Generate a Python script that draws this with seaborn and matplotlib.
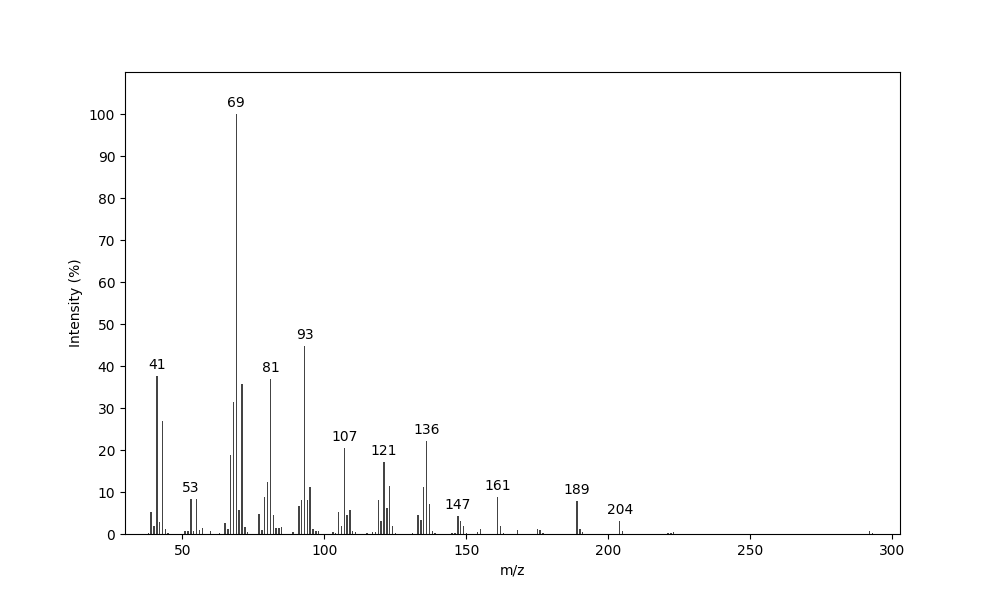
import numpy as np
import pandas as pd
import matplotlib
matplotlib.use("Agg")
import matplotlib.pyplot as plt
import seaborn as sns

# m/z values and relative intensities
mz = [38, 39, 40, 41, 42, 43, 44, 45,
      51, 52, 53, 54, 55, 56, 57, 60, 63,
      65, 66, 67, 68, 69, 70, 71, 72, 73,
      77, 78, 79, 80, 81, 82, 83, 84, 85,
      89, 91, 92, 93, 94, 95, 96, 97, 98,
      103, 104, 105, 106, 107, 108, 109, 110, 111, 115,
      117, 118, 119, 120, 121, 122, 123, 124, 125,
      131, 133, 134, 135, 136, 137, 138, 139,
      145, 146, 147, 148, 149, 150,
      154, 155, 161, 162, 163, 168,
      175, 176, 177, 189, 190, 191,
      204, 205, 221, 222, 223, 292, 293]
intensity = [0.3, 5.2, 1.9, 37.6, 2.9, 27.0, 1.1, 0.3,
             0.6, 0.7, 8.3, 0.7, 8.3, 0.9, 1.4, 0.7, 0.3,
             2.6, 1.1, 18.8, 31.5, 100.0, 5.7, 35.8, 1.7, 0.4,
             4.8, 0.9, 8.9, 12.4, 36.9, 4.6, 1.4, 1.4, 1.7,
             0.4, 6.7, 8.1, 44.8, 8.1, 11.2, 1.1, 0.7, 0.7,
             0.4, 0.3, 5.2, 1.9, 20.5, 4.5, 5.7, 0.8, 0.5, 0.2,
             0.5, 0.4, 8.1, 3.1, 17.1, 6.2, 11.4, 2.0, 0.2,
             0.2, 4.5, 3.3, 11.2, 22.1, 7.1, 0.7, 0.3,
             0.2, 0.3, 4.3, 3.1, 1.9, 0.3,
             0.5, 1.2, 8.8, 1.9, 0.2, 1.0,
             1.2, 0.9, 0.3, 7.9, 1.2, 0.5,
             3.1, 0.8, 0.3, 0.3, 0.5, 0.7, 0.2]

# peaks that carry a label
labeled = [41, 53, 69, 81, 93, 107, 121, 136, 147, 161, 189, 204]

df = pd.DataFrame({"mz": mz, "intensity": intensity})

fig, ax = plt.subplots(figsize=(10, 6), dpi=100)
sns.barplot(data=df, x="mz", y="intensity", native_scale=True, width=0.5,
            color="#444444", saturation=1, linewidth=0, errorbar=None, ax=ax)

for m in labeled:
    h = intensity[mz.index(m)]
    ax.text(m, h + 1, str(m), ha="center", va="bottom", fontsize=10)

ax.set_xlim(29.8, 302.7)
ax.set_ylim(0, 110)
ax.set_xticks([50, 100, 150, 200, 250, 300])
ax.set_xticklabels(["50", "100", "150", "200", "250", "300"])
ax.set_yticks(np.arange(0, 101, 10))
ax.set_xlabel("m/z")
ax.set_ylabel("Intensity (%)")

fig.savefig("out.png", dpi=100)
